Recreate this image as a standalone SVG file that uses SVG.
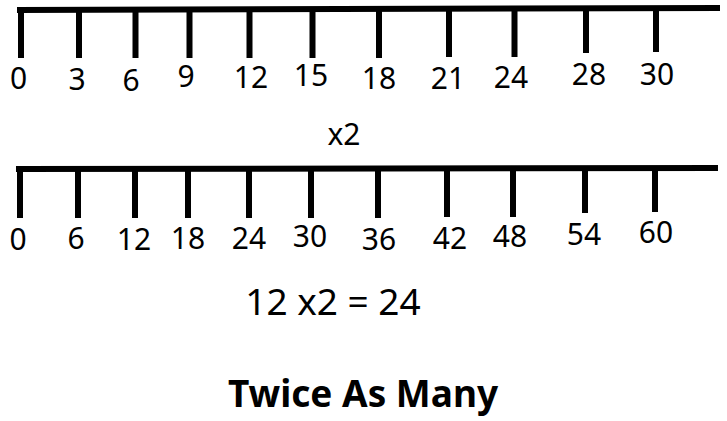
<svg xmlns="http://www.w3.org/2000/svg" width="727" height="421" viewBox="0 0 727 421">
<style>
.bar{stroke:#000;stroke-width:6;fill:none}
.tick{stroke:#000;stroke-width:6;fill:none}
.lbl{font-family:"Noto Sans","DejaVu Sans",sans-serif;font-size:30px;fill:#000;text-anchor:middle}
.x2{font-family:"Noto Sans","DejaVu Sans",sans-serif;font-size:30px;fill:#000;text-anchor:middle}
.eq{font-family:"Noto Sans","DejaVu Sans",sans-serif;font-size:37px;fill:#000;text-anchor:middle}
.title{font-family:"Noto Sans","DejaVu Sans",sans-serif;font-size:37px;font-weight:bold;fill:#000;text-anchor:middle}
</style>
<rect width="727" height="421" fill="#fff"/>
<g id="line1">
<path class="bar" d="M17 10 L720 8"/>
<path class="tick" d="M21 10 V58 M79 10 V58 M135.5 10 V58 M189.5 10 V58 M249.5 9 V58 M312.5 9 V58 M379 9 V58 M449 9 V57 M514.5 9 V57 M586 8 V53 M656 8 V52"/>
<text class="lbl" x="18.5" y="89">0</text>
<text class="lbl" x="77" y="90">3</text>
<text class="lbl" x="131" y="91">6</text>
<text class="lbl" x="186" y="87">9</text>
<text class="lbl" x="251" y="88">12</text>
<text class="lbl" x="311" y="86">15</text>
<text class="lbl" x="379" y="89">18</text>
<text class="lbl" x="448" y="89">21</text>
<text class="lbl" x="511" y="88">24</text>
<text class="lbl" x="589" y="85">28</text>
<text class="lbl" x="657" y="85">30</text>
</g>
<g id="label-x2">
<text class="x2" x="344" y="145">x2</text>
</g>
<g id="line2">
<path class="bar" d="M16 169 L718 168"/>
<path class="tick" d="M20 169 V218 M78 169 V218 M135 169 V218 M188 169 V218 M249 169 V218 M311 169 V218 M378 168 V218 M447 168 V217 M513 168 V217 M585 168 V213 M655 168 V212"/>
<text class="lbl" x="18" y="250">0</text>
<text class="lbl" x="76" y="249">6</text>
<text class="lbl" x="134" y="250">12</text>
<text class="lbl" x="188" y="249">18</text>
<text class="lbl" x="249" y="249">24</text>
<text class="lbl" x="310" y="247">30</text>
<text class="lbl" x="379" y="250">36</text>
<text class="lbl" x="450" y="249">42</text>
<text class="lbl" x="510" y="247">48</text>
<text class="lbl" x="584" y="245">54</text>
<text class="lbl" x="656" y="243">60</text>
</g>
<g id="equation">
<text class="eq" x="333" y="315">12 x2 = 24</text>
</g>
<g id="title">
<text class="title" x="363" y="407">Twice As Many</text>
</g>
</svg>
